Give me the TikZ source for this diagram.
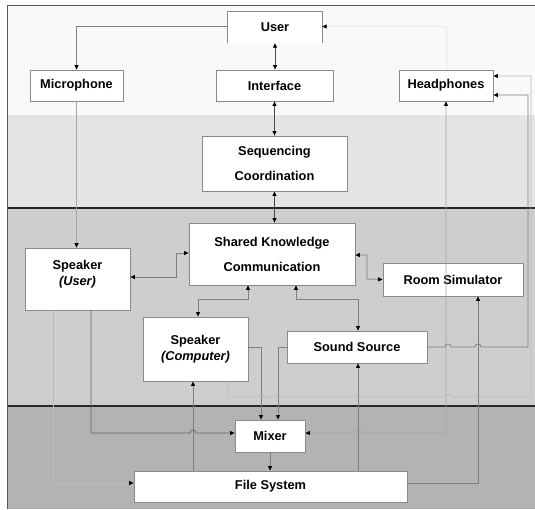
\documentclass[tikz,border=0pt]{standalone}
\usepackage{fontspec}
\setmainfont{Liberation Sans}
\usetikzlibrary{arrows.meta}

\definecolor{bandA}{HTML}{F9F9F9}
\definecolor{bandB}{HTML}{E4E4E4}
\definecolor{bandC}{HTML}{CECECE}
\definecolor{bandD}{HTML}{B3B3B3}
\definecolor{boxline}{HTML}{8A8A8A}
\definecolor{spinecol}{HTML}{4A4A4A}
\definecolor{darkwire}{HTML}{666666}
\definecolor{midwire}{HTML}{7E7E7E}
\definecolor{lightwire}{HTML}{A6A6A6}
\definecolor{faintwire}{HTML}{BCBCBC}
\definecolor{ghostwire}{HTML}{EAEAEA}

% small upward bump where a horizontal wire crosses a vertical one (left to right)
\newcommand\hop[2]{-- ({#1-3},#2) .. controls ({#1-3},{#2-4}) and ({#1+3},{#2-4}) .. ({#1+3},#2)}

\begin{document}
\begin{tikzpicture}[x=1pt,y=-1pt,
  box/.style={draw=boxline,fill=white,line width=0.8pt,inner sep=0pt,
    font=\fontsize{12.8}{16}\selectfont\bfseries,align=center},
  boxtext/.style={inner sep=0pt,font=\fontsize{12.8}{16}\selectfont\bfseries,align=center},
  tipend/.style={-{Triangle[length=4.5pt,width=4pt,color=black]}},
  tipboth/.style={{Triangle[length=4.5pt,width=4pt,color=black]}-{Triangle[length=4.5pt,width=4pt,color=black]}},
  spine/.style={draw=spinecol,line width=0.9pt},
  dwire/.style={draw=darkwire,line width=0.8pt},
  mwire/.style={draw=midwire,line width=0.8pt},
  lwire/.style={draw=lightwire,line width=0.8pt},
  fwire/.style={draw=faintwire,line width=0.8pt},
  gwire/.style={draw=ghostwire,line width=0.8pt},
  divider/.style={draw=black!85,line width=1.2pt},
  frameline/.style={draw=black!65,line width=1pt}]

\useasboundingbox (0,0) rectangle (535,509);

% layer bands
\fill[bandA] (7,5) rectangle (535,115);
\fill[bandB] (7,115) rectangle (535,208);
\fill[bandC] (7,208) rectangle (535,406);
\fill[bandD] (7,406) rectangle (535,509);
\draw[divider] (7,208) -- (535,208);
\draw[divider] (7,406) -- (535,406);
\draw[frameline] (7,509) -- (7,5) -- (535,5);

% components
\node[boxtext,fill=white,minimum width=94pt,minimum height=31pt] (user) at (275,27.5) {User};
\draw[draw=boxline,line width=0.8pt] (user.south west) -- (user.north west) -- (user.north east) -- (user.south east);

\node[box,minimum width=93pt,minimum height=31pt] (mic) at (76.5,85.5) {Microphone};
\node[box,minimum width=117pt,minimum height=31pt] (iface) at (274.5,85.5) {Interface};
\node[box,minimum width=94pt,minimum height=31pt] (head) at (446,85.5) {Headphones};
\node[box,minimum width=145pt,minimum height=55pt] (seq) at (274.5,163.5) {Sequencing\\[9pt]Coordination};
\node[box,minimum width=166pt,minimum height=62pt] (sk) at (272,254) {Shared Knowledge\\[9pt]Communication};
\node[box,minimum width=105pt,minimum height=62pt] (spku) at (77.5,279) {};
\node[boxtext] (spkutext) at ([yshift=5pt]spku.center) {Speaker\\\textit{(User)}};
\node[box,minimum width=140pt,minimum height=33pt] (room) at (453,279.5) {Room Simulator};
\node[box,minimum width=105pt,minimum height=64pt] (spkc) at (195.5,349) {Speaker\\\textit{(Computer)}};
\node[box,minimum width=140pt,minimum height=32pt] (ss) at (357,347) {Sound Source};
\node[box,minimum width=70pt,minimum height=32pt] (mixer) at (270,436) {Mixer};
\node[box,minimum width=273pt,minimum height=31pt] (fs) at (270.5,486.5) {File System};

% control spine
\draw[spine,tipboth] (user.south) -- (user.south |- iface.north);
\draw[spine,tipboth] (iface.south) -- (iface.south |- seq.north);
\draw[spine,tipboth] (seq.south) -- (seq.south |- sk.north);

% user side
\draw[mwire,tipend] ([yshift=1pt]user.west) -| (mic.north);
\draw[lwire,tipend] (mic.south) -- (mic.south |- spku.north);
\draw[gwire,tipend] (head.north) |- ([yshift=1pt]user.east);

% knowledge links
\draw[mwire,tipboth] ([yshift=1pt]sk.west) -| (176,277) -- ([yshift=2pt]spku.east);
\draw[mwire,tipboth] ([yshift=-1pt]sk.east) -| (367,279) -- (room.west);
\draw[mwire,tipboth] ([xshift=-24pt]sk.south) -- (248,299) -- (198,299) -- ([xshift=2.5pt]spkc.north);
\draw[mwire,tipboth] ([xshift=24pt]sk.south) -- (296,299) -- (358,299) -- ([xshift=1pt]ss.north);

% audio paths into the mixer
\draw[dwire,tipend] ([xshift=13.5pt]spku.south) -- (91,433) \hop{193}{433} -- ([yshift=3pt]mixer.west);
\draw[mwire,tipend] ([yshift=2pt]spkc.east) -| ([xshift=-9pt]mixer.north);
\draw[mwire,tipend] (ss.west) -| ([xshift=8pt]mixer.north);
\draw[mwire,tipend] (mixer.south) -- (mixer.south |- fs.north);
\draw[lwire,tipboth] ([yshift=3pt]mixer.east) \hop{358}{433} -- (446,433) -- (head.south);

% file system playback
\draw[mwire,tipend] ([xshift=-2.5pt]spkc.south |- fs.north) -- ([xshift=-2.5pt]spkc.south);
\draw[mwire,tipend] ([xshift=1pt]ss.south |- fs.north) -- ([xshift=1pt]ss.south);
\draw[mwire,tipend] ([yshift=3.5pt]fs.east) -| ([xshift=25pt]room.south);
\draw[fwire,tipend] ([xshift=-24.5pt]spku.south) |- ([yshift=3.5pt]fs.west);

% headphone feeds
\draw[mwire,tipend] (ss.east) \hop{448}{347} \hop{478}{347} -- (528,347) |- ([yshift=-9.5pt]head.east);
\draw[fwire,tipend] ([xshift=32.5pt]spkc.south) -- (228,397) \hop{261}{397} \hop{278}{397} \hop{358}{397} \hop{448}{397} \hop{478}{397} -- (531,397) |- ([yshift=9.5pt]head.east);

\end{tikzpicture}
\end{document}
